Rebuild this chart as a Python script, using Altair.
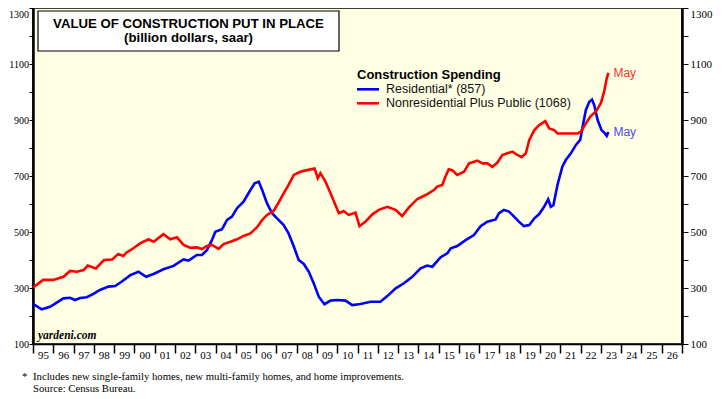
import altair as alt
import pandas as pd

# ---- data ----
res_t = [1995.0, 1995.43, 1995.84, 1996.17, 1996.5, 1996.83, 1997.07, 1997.32, 1997.65, 1997.98,
         1998.3, 1998.72, 1999.05, 1999.38, 1999.8, 2000.2, 2000.58, 2000.94, 2001.43, 2001.93,
         2002.42, 2002.67, 2003.08, 2003.33, 2003.58, 2003.82, 2003.99, 2004.32, 2004.57, 2004.81,
         2005.06, 2005.38, 2005.72, 2005.93, 2006.13, 2006.3, 2006.54, 2006.79, 2007.03, 2007.36,
         2007.6, 2007.86, 2008.1, 2008.35, 2008.6, 2008.84, 2009.09, 2009.37, 2009.67, 2010.0,
         2010.41, 2010.74, 2011.15, 2011.64, 2012.13, 2012.47, 2012.88, 2013.29, 2013.7, 2014.11,
         2014.44, 2014.69, 2015.1, 2015.43, 2015.6, 2015.92, 2016.33, 2016.74, 2017.07, 2017.4,
         2017.81, 2017.98, 2018.22, 2018.47, 2018.72, 2018.96, 2019.2, 2019.47, 2019.72, 2019.96,
         2020.2, 2020.4, 2020.53, 2020.66, 2020.86, 2021.1, 2021.27, 2021.52, 2021.77, 2021.98,
         2022.1, 2022.26, 2022.43, 2022.56, 2022.67, 2022.84, 2023.03, 2023.2, 2023.29, 2023.37]
res_v = [243, 224, 233, 248, 263, 265, 257, 264, 267, 279,
         293, 305, 307, 323, 346, 358, 340, 350, 367, 379,
         402, 398, 418, 418, 436, 471, 501, 510, 543, 555,
         585, 608, 650, 674, 680, 650, 602, 567, 549, 525,
         495, 448, 400, 386, 358, 317, 269, 242, 255, 257,
         255, 239, 243, 251, 251, 271, 299, 317, 340, 370,
         380, 376, 410, 424, 442, 450, 471, 489, 521, 537,
         545, 567, 579, 573, 555, 537, 521, 525, 549, 564,
         590, 617, 590, 596, 668, 733, 757, 781, 811, 829,
         876, 936, 965, 973, 954, 900, 864, 852, 843, 857]

non_t = [1995.0, 1995.5, 1996.0, 1996.5, 1996.83, 1997.16, 1997.5, 1997.7, 1998.1, 1998.5,
         1998.9, 1999.2, 1999.45, 1999.6, 1999.95, 2000.3, 2000.7, 2000.95, 2001.43, 2001.77,
         2002.1, 2002.42, 2002.75, 2003.08, 2003.33, 2003.58, 2003.82, 2004.15, 2004.4, 2004.73,
         2005.06, 2005.38, 2005.72, 2006.05, 2006.3, 2006.54, 2006.87, 2007.06, 2007.36, 2007.6,
         2007.86, 2008.18, 2008.52, 2008.88, 2009.04, 2009.17, 2009.42, 2009.67, 2010.08, 2010.32,
         2010.57, 2010.9, 2011.1, 2011.4, 2011.73, 2012.05, 2012.47, 2012.88, 2013.2, 2013.53,
         2013.95, 2014.36, 2014.77, 2014.93, 2015.18, 2015.35, 2015.5, 2015.67, 2015.92, 2016.25,
         2016.5, 2016.91, 2017.16, 2017.4, 2017.65, 2017.9, 2018.14, 2018.39, 2018.64, 2018.89,
         2019.09, 2019.3, 2019.47, 2019.72, 2019.96, 2020.26, 2020.45, 2020.7, 2020.86, 2021.36,
         2021.85, 2022.02, 2022.26, 2022.5, 2022.75, 2023.0, 2023.16, 2023.29, 2023.37]
non_v = [302, 329, 329, 340, 361, 358, 364, 380, 370, 400,
         402, 421, 414, 426, 442, 460, 474, 465, 492, 474,
         481, 454, 444, 445, 439, 450, 454, 440, 457, 465,
         474, 486, 495, 517, 543, 561, 576, 599, 638, 668,
         704, 715, 721, 727, 692, 710, 680, 638, 567, 575,
         561, 569, 521, 537, 563, 579, 590, 579, 557, 587,
         618, 632, 650, 662, 668, 700, 724, 721, 704, 715,
         745, 755, 745, 745, 733, 748, 775, 781, 787, 775,
         767, 781, 829, 864, 882, 896, 870, 864, 852, 852,
         852, 858, 888, 914, 930, 960, 1001, 1049, 1068]

series_names = ["Residential* (857)", "Nonresidential Plus Public (1068)"]
series_colors = ["#0000FF", "#FF0000"]
may_colors = ["#4A4AFF", "#FF3030"]
year_ticks = list(range(1995, 2028))
y_ticks = list(range(100, 1301, 100))

df = pd.concat([
    pd.DataFrame({"t": res_t, "v": res_v, "s": series_names[0]}),
    pd.DataFrame({"t": non_t, "v": non_v, "s": series_names[1]}),
])
ends = pd.DataFrame({"t": [res_t[-1], non_t[-1]], "v": [res_v[-1], non_v[-1]],
                     "s": series_names, "lab": ["May", "May"]})

SERIF = "Liberation Serif"
SANS = "Liberation Sans"

xscale = alt.Scale(domain=[1995, 2027], nice=False, zero=False)
yscale = alt.Scale(domain=[100, 1300], nice=False, zero=False)

x_axis = alt.Axis(values=year_ticks, title=None, tickSize=9, labelOffset=10,
                  labelExpr="datum.value >= 2027 ? '' : substring(toString(datum.value), 2, 4)",
                  labelFont=SERIF, labelFontSize=11, labelColor="black", labelPadding=-4,
                  labelOverlap=False, labelFlush=False, grid=False,
                  domainColor="black", domainWidth=1.5, tickColor="black", tickWidth=1.5)

def y_axis(orient, fs, ts, pad):
    return alt.Axis(orient=orient, values=y_ticks, title=None, format="d", tickSize=ts,
                    labelExpr="datum.value % 200 == 100 ? datum.label : ''",
                    labelFont=SERIF, labelFontSize=fs, labelColor="black", labelPadding=pad,
                    labelOffset={"condition": {"test": "datum.value == 1300", "value": 6}, "value": 0},
                    labelOverlap=False, labelFlush=False,
                    grid=False, domainColor="black", domainWidth=2.5, tickColor="black",
                    tickWidth=1)

lines = alt.Chart(df).mark_line(strokeWidth=2.6).encode(
    x=alt.X("t:Q", scale=xscale, axis=x_axis),
    y=alt.Y("v:Q", scale=yscale, axis=y_axis("left", 10, 4, 0.5)),
    color=alt.Color("s:N", scale=alt.Scale(domain=series_names, range=series_colors), legend=None),
    detail="s:N",
)

right = alt.Chart(df).mark_line(opacity=0).encode(
    x=alt.X("t:Q", scale=xscale, axis=None),
    y=alt.Y("v:Q", scale=yscale, axis=y_axis("right", 11, 6, 2)),
)

may = alt.Chart(ends).mark_text(align="left", baseline="middle", dx=5, font=SANS, fontSize=12).encode(
    x=alt.X("t:Q", scale=xscale, axis=None),
    y=alt.Y("v:Q", scale=yscale, axis=None),
    text="lab:N",
    color=alt.Color("s:N", scale=alt.Scale(domain=series_names, range=may_colors), legend=None),
)

# title box
box_df = pd.DataFrame({"k": [0]})
title_box = alt.Chart(box_df).mark_rect(fill="white", stroke="black", strokeWidth=1.2).encode(
    x=alt.value(5), x2=alt.value(306), y=alt.value(3), y2=alt.value(43))
title1 = alt.Chart(box_df).mark_text(font=SANS, fontSize=13.2, fontWeight="bold", align="center",
                                     baseline="middle").encode(
    x=alt.value(155.5), y=alt.value(16), text=alt.value("VALUE OF CONSTRUCTION PUT IN PLACE"))
title2 = alt.Chart(box_df).mark_text(font=SANS, fontSize=13.2, fontWeight="bold", align="center",
                                     baseline="middle").encode(
    x=alt.value(155.5), y=alt.value(29.8), text=alt.value("(billion dollars, saar)"))

# custom legend
leg_df = pd.DataFrame({"s": series_names, "yy": [81.3, 95.3]})
leg_head = alt.Chart(box_df).mark_text(font=SANS, fontSize=13, fontWeight="bold", align="left",
                                       baseline="middle").encode(
    x=alt.value(324), y=alt.value(67), text=alt.value("Construction Spending"))
leg_lines = alt.Chart(leg_df).mark_rule(strokeWidth=2.6).encode(
    x=alt.value(324), x2=alt.value(346), y=alt.Y("yy:Q", scale=None, axis=None),
    color=alt.Color("s:N", scale=alt.Scale(domain=series_names, range=series_colors), legend=None))
leg_text = alt.Chart(leg_df).mark_text(font=SANS, fontSize=12.5, align="left", baseline="middle",
                                       color="#111111").encode(
    x=alt.value(353), y=alt.Y("yy:Q", scale=None, axis=None), text="s:N")

yardeni = alt.Chart(box_df).mark_text(font=SERIF, fontSize=11.5, fontWeight="bold", fontStyle="italic",
                                      align="left", baseline="middle").encode(
    x=alt.value(5), y=alt.value(327.5), text=alt.value("yardeni.com"))

foot_df = pd.DataFrame({
    "xx": [-11, 0, 0],
    "yy": [369, 369, 381],
    "txt": ["*", "Includes new single-family homes, new multi-family homes, and home improvements.",
            "Source: Census Bureau."],
})
foot = alt.Chart(foot_df).mark_text(font=SERIF, fontSize=10.7, align="left", baseline="middle").encode(
    x=alt.X("xx:Q", scale=None, axis=None), y=alt.Y("yy:Q", scale=None, axis=None), text="txt:N")

chart = alt.layer(
    lines, right, may, title_box, title1, title2, leg_head, leg_lines, leg_text, yardeni, foot
).resolve_scale(
    y="independent", x="independent", color="independent"
).properties(
    width=649, height=336,
    autosize=alt.AutoSizeParams(type="none"),
    padding={"left": 25, "top": 0, "right": 32, "bottom": 55},
    background="white",
).configure_view(
    fill="#FFFFE3", stroke="black", strokeWidth=1.5
)

chart.save("out.html", embed_options={"renderer": "svg", "actions": False})
